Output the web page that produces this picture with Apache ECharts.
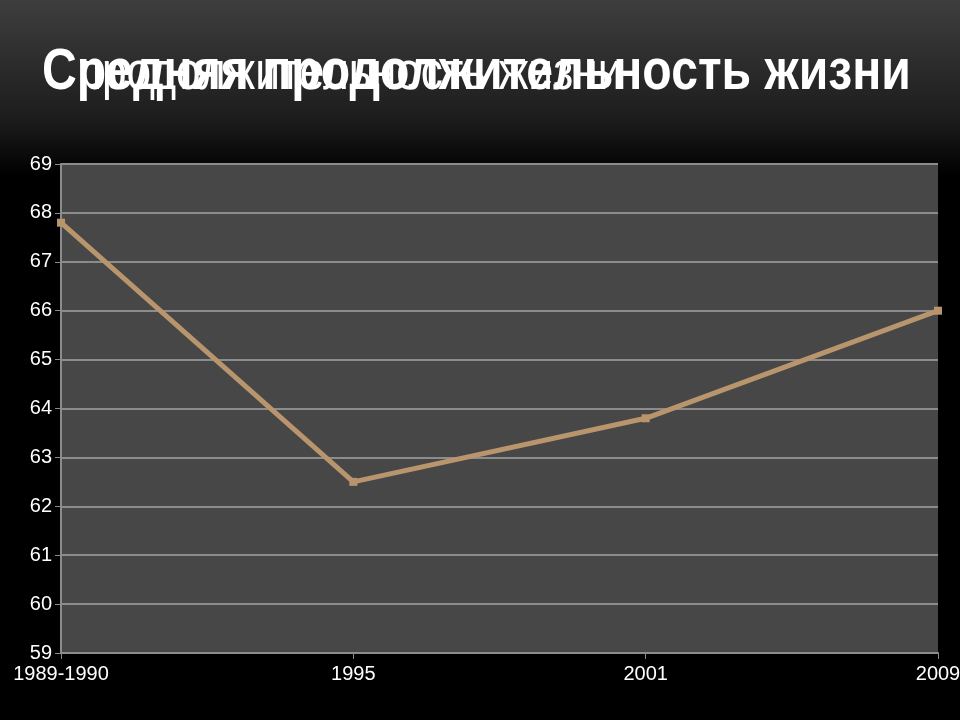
<!DOCTYPE html>
<html>
<head>
<meta charset="utf-8">
<style>
html,body{margin:0;padding:0;width:960px;height:720px;overflow:hidden;}
#c{width:960px;height:720px;background:linear-gradient(to bottom,#3e3e3e 0px,#1c1c1c 120px,#000 175px,#000 720px);}
</style>
<script src="https://cdn.jsdelivr.net/npm/echarts@6/dist/echarts.min.js"></script>
</head>
<body>
<div id="c"></div>
<script>
const slideTitle = "Средняя продолжительность жизни";
const chartTitle = "продолжительность жизни";
const categories = ["1989-1990", "1995", "2001", "2009"];
const lifeExpectancy = [67.8, 62.5, 63.8, 66.0];
const yMin = 59, yMax = 69, yStep = 1;

const chart = echarts.init(document.getElementById('c'), null, {renderer: 'canvas'});
const labelFont = '"Liberation Sans Narrow","Liberation Sans",Arial,sans-serif';
chart.setOption({
  backgroundColor: 'transparent',
  animation: false,
  grid: {left: 61, right: 22, top: 164, bottom: 67, show: true, backgroundColor: '#474747', borderWidth: 0,
         containLabel: false, outerBoundsMode: 'none'},
  xAxis: {
    type: 'category',
    data: categories,
    boundaryGap: false,
    axisLine: {lineStyle: {color: '#8c8c8c', width: 2}},
    axisTick: {show: true, alignWithLabel: true, length: 6, lineStyle: {color: '#8c8c8c', width: 1}},
    axisLabel: {color: '#ffffff', fontSize: 20, fontFamily: labelFont, margin: 11, showMinLabel: true, showMaxLabel: true},
    splitLine: {show: false}
  },
  yAxis: {
    type: 'value',
    min: yMin, max: yMax, interval: yStep,
    axisLine: {show: true, lineStyle: {color: '#8c8c8c', width: 2}},
    axisTick: {show: true, length: 6, lineStyle: {color: '#8c8c8c', width: 1}},
    axisLabel: {color: '#ffffff', fontSize: 20, fontFamily: labelFont, margin: 9},
    splitLine: {show: true, lineStyle: {color: '#8c8c8c', width: 2}}
  },
  series: [{
    type: 'line',
    data: lifeExpectancy,
    symbol: 'rect',
    symbolSize: 8,
    lineStyle: {color: '#b8956c', width: 5},
    itemStyle: {color: '#b8956c'},
    z: 5
  }],
  graphic: [
    {type: 'text', x: 78, y: 74, scaleX: 0.82, z: 10,
     style: {text: chartTitle, fill: '#ffffff', font: 'normal 54px "Liberation Sans", Arial, sans-serif', textAlign: 'left', textVerticalAlign: 'middle', verticalAlign: 'middle'}},
    {type: 'text', x: 42, y: 73, scaleX: 0.845, z: 11,
     style: {text: slideTitle, fill: '#ffffff', font: 'bold 57px "Liberation Sans", Arial, sans-serif', textAlign: 'left', textVerticalAlign: 'middle', verticalAlign: 'middle'}}
  ]
});
</script>
</body>
</html>
